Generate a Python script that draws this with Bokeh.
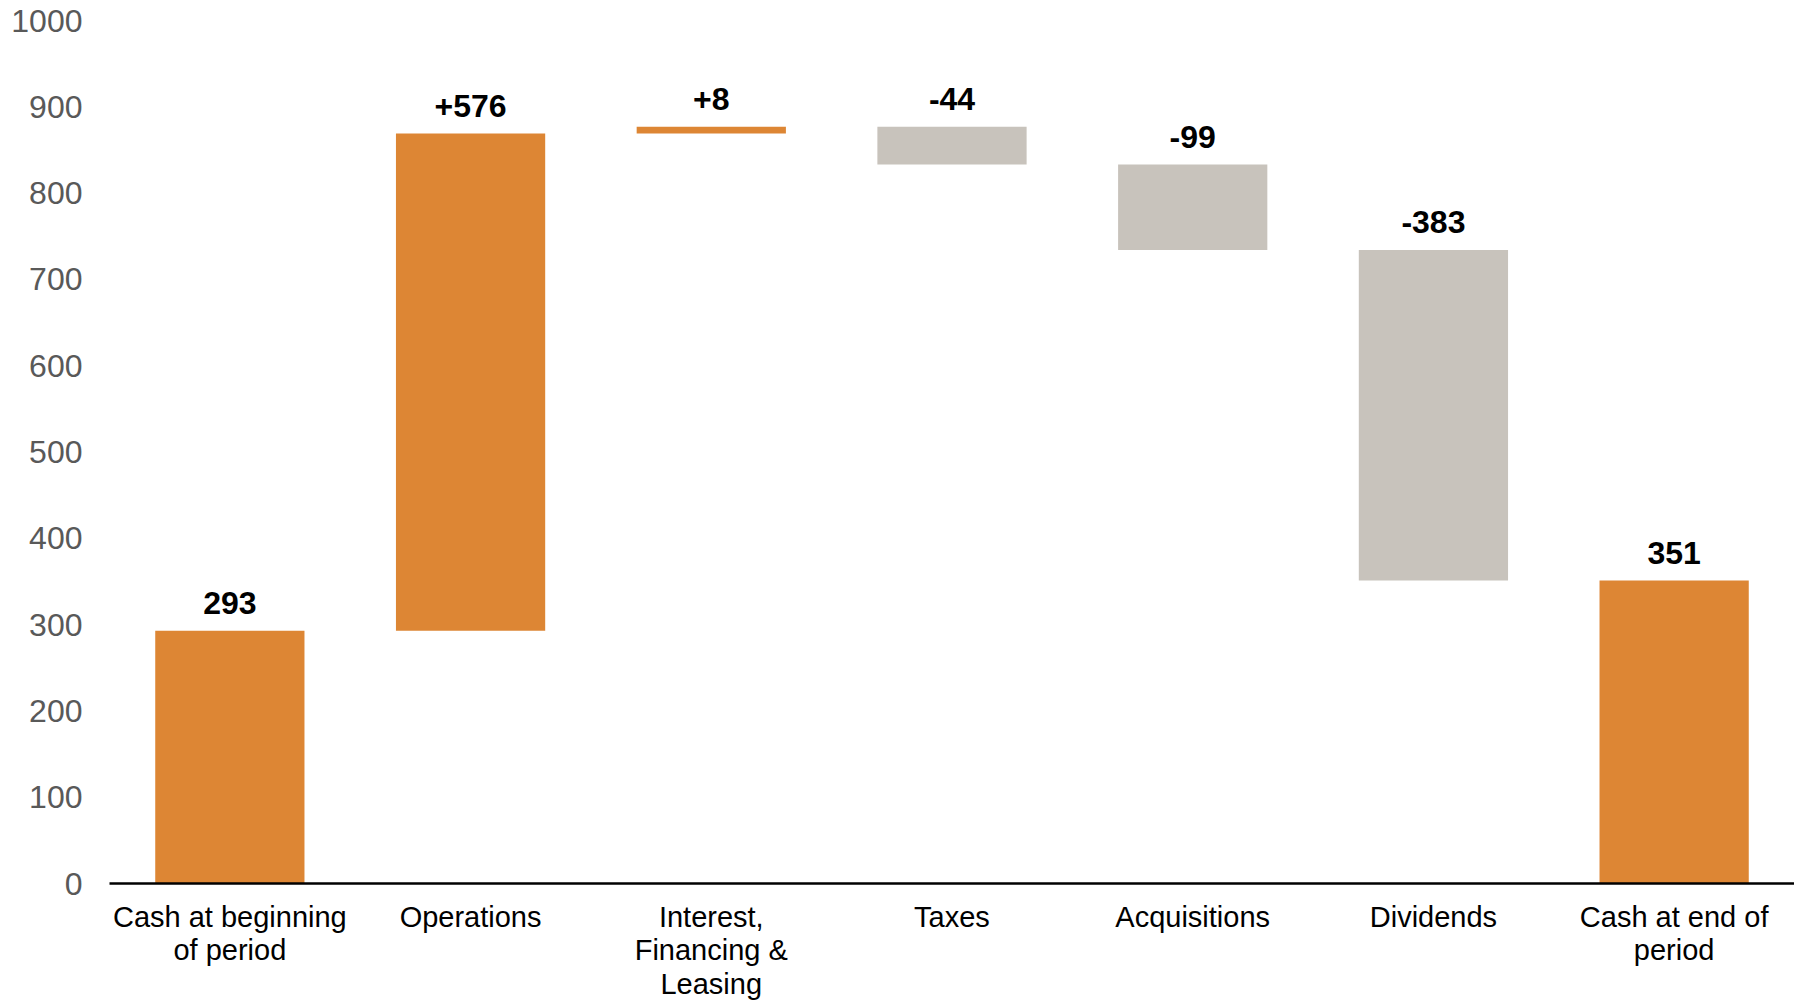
from bokeh.plotting import figure
from bokeh.models import ColumnDataSource, Range1d, FixedTicker, FactorRange
from bokeh.embed import file_html
from bokeh.resources import INLINE
from bokeh.core.properties import value

categories = ["Cash at beginning\nof period", "Operations", "Interest,\nFinancing &\nLeasing",
              "Taxes", "Acquisitions", "Dividends", "Cash at end of\nperiod"]
changes = [293, 576, 8, -44, -99, -383, 351]
kinds = ["total", "delta", "delta", "delta", "delta", "delta", "total"]
labels = ["293", "+576", "+8", "-44", "-99", "-383", "351"]
y_ticks = list(range(0, 1001, 100))

ORANGE = "#DD8634"
GREY = "#C8C3BC"

bottoms, tops, colors = [], [], []
running = 0
for c, k in zip(changes, kinds):
    if k == "total":
        b, t = 0, c
        running = c
    else:
        b, t = running, running + c
        running = running + c
    bottoms.append(min(b, t))
    tops.append(max(b, t))
    colors.append(ORANGE if (k == "total" or c > 0) else GREY)

src = ColumnDataSource(dict(x=categories, bottom=bottoms, top=tops, color=colors, label=labels))

p = figure(x_range=FactorRange(*categories), y_range=Range1d(0, 1000),
           width=1794, height=1003, output_backend="svg", toolbar_location=None,
           min_border_left=109, min_border_right=0, min_border_top=20, min_border_bottom=120)

p.vbar(x="x", bottom="bottom", top="top", width=0.62, color="color", source=src, line_color=None)
p.text(x="x", y="top", text="label", source=src, text_align="center", text_baseline="alphabetic",
       y_offset=-28, text_font=value("Liberation Sans"), text_font_style="bold",
       text_font_size="32px", text_color="black")

p.outline_line_color = None
p.xgrid.grid_line_color = None
p.ygrid.grid_line_color = None

p.yaxis.ticker = FixedTicker(ticks=y_ticks)
p.yaxis.axis_line_color = None
p.yaxis.major_tick_line_color = None
p.yaxis.minor_tick_line_color = None
p.yaxis.major_tick_out = 0
p.yaxis.major_tick_in = 0
p.yaxis.minor_tick_out = 0
p.yaxis.major_label_text_font = "Liberation Sans"
p.yaxis.major_label_text_font_size = "32px"
p.yaxis.major_label_text_color = "#595959"
p.yaxis.major_label_standoff = 27

p.xaxis.axis_line_color = "black"
p.xaxis.axis_line_width = 2.5
p.xaxis.major_tick_line_color = None
p.xaxis.minor_tick_line_color = None
p.xaxis.major_tick_out = 0
p.xaxis.major_tick_in = 0
p.xaxis.minor_tick_out = 0
p.xaxis.major_label_text_font = "Liberation Sans"
p.xaxis.major_label_text_font_size = "29px"
p.xaxis.major_label_text_color = "black"
p.xaxis.major_label_standoff = 17
p.xaxis.major_label_text_line_height = 1.06

open("out.html", "w").write(file_html(p, INLINE))
